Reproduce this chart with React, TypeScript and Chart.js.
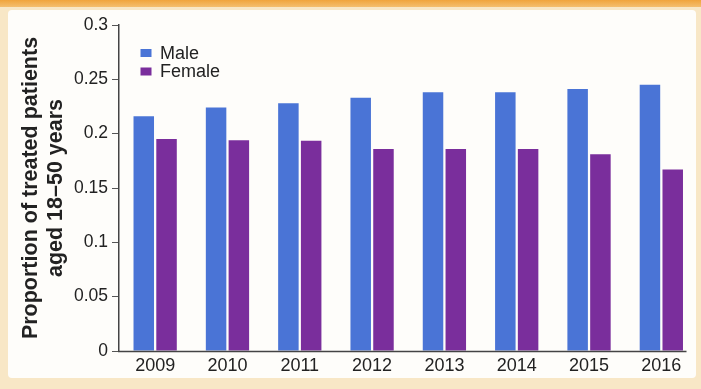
import React, { useEffect, useRef } from "react";
import { Chart, registerables } from "chart.js";

Chart.register(...registerables);

const years = ["2009", "2010", "2011", "2012", "2013", "2014", "2015", "2016"];
const maleValues = [0.216, 0.224, 0.228, 0.233, 0.238, 0.238, 0.241, 0.245];
const femaleValues = [0.195, 0.194, 0.1935, 0.186, 0.186, 0.186, 0.181, 0.167];
const seriesNames = ["Male", "Female"];
const yTitle = ["Proportion of treated patients", "aged 18\u201350 years"];

const BLUE = "#4a74d6";
const PURPLE = "#7a2e9c";
const FONT = "'Liberation Sans', Arial, Helvetica, sans-serif";

const legendPlugin = {
  id: "insideLegend",
  afterDatasetsDraw(chart: any) {
    const { ctx, chartArea } = chart;
    ctx.save();
    ctx.font = `18px ${FONT}`;
    ctx.textBaseline = "alphabetic";
    ctx.textAlign = "left";
    chart.data.datasets.forEach((ds: any, i: number) => {
      const y = chartArea.top + 24 + i * 18.5;
      ctx.fillStyle = ds.backgroundColor;
      ctx.fillRect(chartArea.left + 21.5, y, 11, 8);
      ctx.fillStyle = "#222";
      ctx.fillText(ds.label, chartArea.left + 41, y + 9.5);
    });
    ctx.restore();
  },
};

const xAxisLinePlugin = {
  id: "xAxisLine",
  afterDraw(chart: any) {
    const { ctx, chartArea } = chart;
    ctx.save();
    ctx.strokeStyle = "#444";
    ctx.lineWidth = 1.5;
    ctx.beginPath();
    ctx.moveTo(chartArea.left - 1, chartArea.bottom + 0.5);
    ctx.lineTo(chartArea.right - 11, chartArea.bottom + 0.5);
    ctx.stroke();
    ctx.restore();
  },
};

export default function App() {
  const ref = useRef<HTMLCanvasElement | null>(null);

  useEffect(() => {
    if (!ref.current) return;
    const chart = new Chart(ref.current, {
      type: "bar",
      data: {
        labels: years,
        datasets: [
          {
            label: seriesNames[0],
            data: maleValues,
            backgroundColor: BLUE,
            barPercentage: 0.9,
            categoryPercentage: 0.63,
          },
          {
            label: seriesNames[1],
            data: femaleValues,
            backgroundColor: PURPLE,
            barPercentage: 0.9,
            categoryPercentage: 0.63,
          },
        ],
      },
      options: {
        animation: false,
        responsive: false,
        maintainAspectRatio: false,
        layout: { padding: { top: 25, right: 3.5, left: 0, bottom: 0 } },
        plugins: {
          legend: { display: false },
          tooltip: { enabled: false },
        },
        scales: {
          x: {
            grid: { display: false, drawTicks: false },
            border: { display: false },
            ticks: {
              color: "#222",
              font: { family: FONT, size: 18 },
              padding: 4,
              maxRotation: 0,
            },
            afterFit: (scale: any) => {
              scale.height = 38;
            },
          },
          y: {
            min: 0,
            max: 0.3,
            ticks: {
              stepSize: 0.05,
              color: "#222",
              font: { family: FONT, size: 17.5 },
              padding: 4,
              callback: (v: any) => String(Math.round(Number(v) * 100) / 100),
            },
            grid: {
              drawOnChartArea: false,
              drawTicks: true,
              tickLength: 7,
              color: "#555",
              lineWidth: 1,
            },
            border: { display: true, color: "#444", width: 1.5 },
            title: {
              display: true,
              text: yTitle,
              color: "#222",
              font: { family: FONT, size: 21.5, weight: "bold", lineHeight: 1.15 },
              padding: { top: 19, bottom: 0 },
            },
            afterFit: (scale: any) => {
              scale.width = 119;
            },
          },
        },
      },
      plugins: [legendPlugin, xAxisLinePlugin],
    });
    return () => chart.destroy();
  }, []);

  return (
    <div
      style={{
        position: "fixed",
        left: 0,
        top: 0,
        width: 701,
        height: 389,
        background: "#f8e7c6",
        overflow: "hidden",
      }}
    >
      <div
        style={{
          position: "absolute",
          left: 0,
          top: 0,
          width: 701,
          height: 7,
          background: "linear-gradient(#f0a43c, #f4be6e)",
        }}
      />
      <div
        style={{
          position: "absolute",
          left: 8,
          top: 10,
          width: 688,
          height: 368,
          background: "#fefdfa",
          borderRadius: 4,
        }}
      />
      <canvas
        ref={ref}
        width={701}
        height={389}
        style={{ position: "absolute", left: 0, top: 0, width: 701, height: 389 }}
      />
    </div>
  );
}
